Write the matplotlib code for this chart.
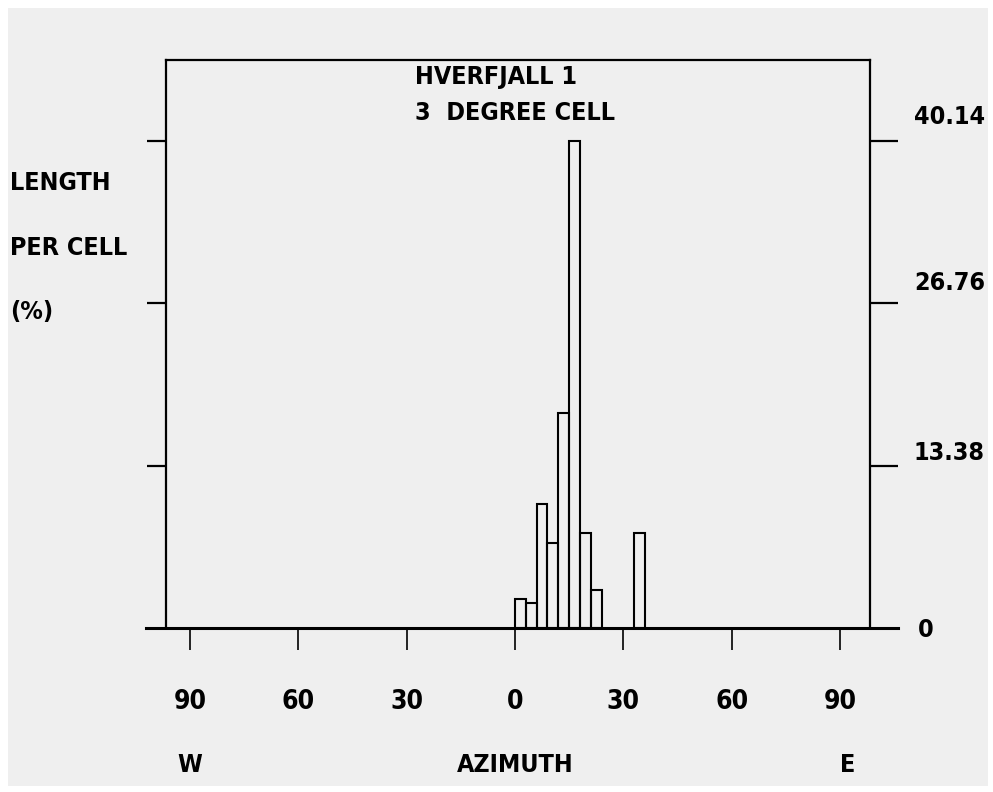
import matplotlib.pyplot as plt
from matplotlib.patches import Rectangle

# 3 degree cells (left edge of each cell, degrees east of north)
cell_left = [0, 3, 6, 9, 12, 15, 18, 21, 33]
length_pct = [2.39, 2.03, 10.2, 6.98, 17.7, 40.14, 7.8, 3.13, 7.8]
cell_width = 3

y_ticks = [13.38, 26.76, 40.14]
y_labels = ["13.38", "26.76", "40.14"]
x_ticks = [-90, -60, -30, 0, 30, 60, 90]
x_labels = ["90", "60", "30", "0", "30", "60", "90"]

W, H = 993, 792
BG = "#efefef"

plt.rcParams['font.family'] = ['DejaVu Sans']
plt.rcParams['font.stretch'] = 'condensed'
plt.rcParams['font.weight'] = 'bold'
plt.rcParams['font.size'] = 18


def fx(px):
    return px / W


def fy(py):
    return 1 - py / H


fig = plt.figure(figsize=(W / 100, H / 100), dpi=100, facecolor="white")
fig.patches.append(Rectangle((fx(8), fy(786)), fx(980), 778 / H, transform=fig.transFigure,
                             facecolor=BG, edgecolor="none", zorder=-10))

ax = fig.add_axes([fx(166), fy(628), fx(870 - 166), (628 - 60) / H])
ax.patch.set_alpha(0)

ax.bar(cell_left, length_pct, width=cell_width, align='edge',
       facecolor="none", edgecolor="black", linewidth=1.5)

ax.set_xlim(-96.6, 98.3)
ax.set_ylim(0, 46.8)

for s in ax.spines.values():
    s.set_linewidth(1.6)
ax.spines['bottom'].set_visible(False)

# baseline runs a bit past the box on both sides
ax.plot([-102, 106], [0, 0], color="black", linewidth=2.2, clip_on=False)

ax.set_xticks(x_ticks)
ax.set_xticklabels(x_labels)
ax.tick_params(axis='x', direction='out', length=16, width=1.2, pad=28, labelsize=19)

ax.set_yticks(y_ticks)
ax.set_yticklabels([])
ax.tick_params(axis='y', direction='out', left=True, right=True, length=14, width=1.6)
for t in ax.yaxis.get_major_ticks():
    t.tick2line.set_markersize(20)

# right-hand value labels
for yp, lab in zip([117, 283, 453], [y_labels[2], y_labels[1], y_labels[0]]):
    fig.text(fx(914), fy(yp), lab, va='center', ha='left')
fig.text(fx(918), fy(630), "0", va='center', ha='left')

fig.text(fx(415), fy(77), "HVERFJALL 1", va='center', ha='left')
fig.text(fx(415), fy(113), "3  DEGREE CELL", va='center', ha='left')

fig.text(fx(10), fy(183), "LENGTH", va='center', ha='left')
fig.text(fx(10), fy(248), "PER CELL", va='center', ha='left')
fig.text(fx(10), fy(312), "(%)", va='center', ha='left')

fig.text(fx(190), fy(765), "W", va='center', ha='center')
fig.text(fx(515), fy(765), "AZIMUTH", va='center', ha='center')
fig.text(fx(848), fy(765), "E", va='center', ha='center')

fig.savefig("out.png", dpi=100, facecolor=fig.get_facecolor())
